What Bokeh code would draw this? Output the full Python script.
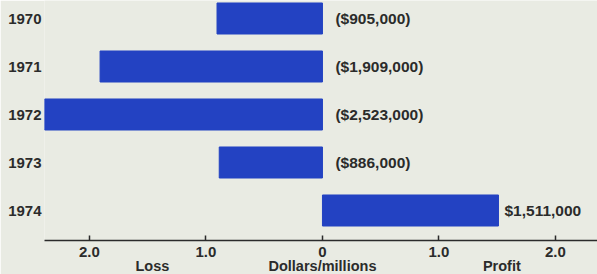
from bokeh.plotting import figure
from bokeh.models import ColumnDataSource, FixedTicker, LinearAxis, Range1d
from bokeh.core.properties import value
from bokeh.embed import file_html
from bokeh.resources import INLINE

# ---- data (millions of dollars; negative = loss) ----
years = [1970, 1971, 1972, 1973, 1974]
results = [-0.905, -1.909, -2.523, -0.886, 1.511]
value_labels = ["($905,000)", "($1,909,000)", "($2,523,000)", "($886,000)", "$1,511,000"]
x_ticks = [-2, -1, 0, 1, 2]
x_tick_labels = ["2.0", "1.0", "0", "1.0", "2.0"]
side_positions = [-1.46, 0.0, 1.54]
side_labels = ["Loss", "Dollars/millions", "Profit"]

BG = "#e9ebe3"
BLUE = "#2342c2"
INK = "#2b2b2b"
FONT = "Liberation Sans"

# derived table
left = [min(0, v) for v in results]
right = [max(0, v) for v in results]
label_x = [max(0, v) for v in results]
label_off = [13 if v < 0 else 6 for v in results]
src = ColumnDataSource(dict(year=years, left=left, right=right,
                            lx=label_x, xo=label_off, label=value_labels))

p = figure(frame_width=553, frame_height=240, output_backend="svg",
           toolbar_location=None,
           x_range=Range1d(-2.386, 2.361),
           y_range=Range1d(1974.625, 1969.625),
           min_border_left=44, min_border_right=0, min_border_top=0,
           min_border_bottom=0)

p.hbar(y="year", left="left", right="right", height=0.646, source=src,
       fill_color=BLUE, line_color=BLUE)
p.text(x="lx", y="year", text="label", x_offset="xo", source=src,
       text_font=value(FONT), text_font_style="bold", text_font_size="15.5px",
       text_baseline="middle", text_align="left", text_color=INK)

p.background_fill_color = BG
p.border_fill_color = BG
p.outline_line_color = None
p.grid.visible = False

# x axis
xa = p.xaxis[0]
xa.ticker = FixedTicker(ticks=x_ticks)
xa.major_label_overrides = {t: l for t, l in zip(x_ticks, x_tick_labels)}
xa.axis_line_color = INK
xa.axis_line_width = 1.5
xa.major_tick_in = 5
xa.major_tick_out = 0
xa.major_tick_line_color = INK
xa.major_tick_line_width = 1.5
xa.minor_tick_line_color = None
xa.major_label_standoff = 6
xa.major_label_text_font = FONT
xa.major_label_text_font_style = "bold"
xa.major_label_text_font_size = "15px"
xa.major_label_text_color = INK

# second axis for side labels
xa2 = LinearAxis(ticker=FixedTicker(ticks=side_positions))
xa2.major_label_overrides = {t: l for t, l in zip(side_positions, side_labels)}
xa2.axis_line_color = None
xa2.major_tick_line_color = None
xa2.minor_tick_line_color = None
xa2.major_tick_in = 0
xa2.major_tick_out = 0
xa2.major_label_standoff = -2
xa2.major_label_text_font = FONT
xa2.major_label_text_font_style = "bold"
xa2.major_label_text_font_size = "14.5px"
xa2.major_label_text_color = INK
p.add_layout(xa2, "below")

# y axis
ya = p.yaxis[0]
ya.ticker = FixedTicker(ticks=years)
ya.axis_line_color = None
ya.major_tick_line_color = None
ya.minor_tick_line_color = None
ya.major_tick_in = 0
ya.major_tick_out = 0
ya.major_label_standoff = 3
ya.major_label_text_font = FONT
ya.major_label_text_font_style = "bold"
ya.major_label_text_font_size = "15px"
ya.major_label_text_color = INK

open("out.html", "w").write(file_html(p, INLINE))
